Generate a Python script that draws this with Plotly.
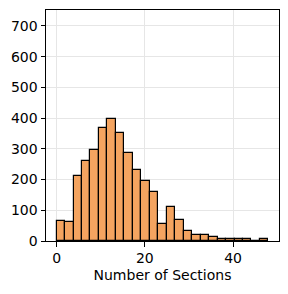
import numpy as np
import plotly.graph_objects as go

# Histogram counts (25 bins spanning 0..48)
bin_start = 0
bin_end = 48
n_bins = 25
counts = [65, 61, 213, 262, 297, 367, 396, 350, 288, 232, 194, 158, 55,
          110, 68, 32, 18, 18, 12, 8, 5, 5, 5, 0, 5]
x_ticks = [0, 20, 40]
y_ticks = [0, 100, 200, 300, 400, 500, 600, 700]
x_label = "Number of Sections"

edges = np.linspace(bin_start, bin_end, n_bins + 1)
centers = (edges[:-1] + edges[1:]) / 2
widths = np.diff(edges)

fig = go.Figure(go.Bar(
    x=centers, y=counts, width=widths,
    marker=dict(color="#F4A460", line=dict(color="black", width=1.2)),
    hoverinfo="x+y",
))

font = dict(family="DejaVu Sans", size=14, color="black")
axis_common = dict(
    showline=True, linecolor="black", linewidth=1, mirror=True,
    ticks="outside", ticklen=4.5, tickwidth=1, tickcolor="black",
    showgrid=True, gridcolor="#e6e6e6", gridwidth=0.8,
    zeroline=False, tickfont=font, automargin=False,
)
fig.update_layout(
    width=288, height=294,
    margin=dict(l=38, r=17, t=2, b=61),
    paper_bgcolor="white", plot_bgcolor="white",
    showlegend=False, bargap=0,
    font=font,
    xaxis=dict(axis_common, range=[-2.4, 50.4], tickvals=x_ticks,
               title=dict(text=x_label, font=font, standoff=4)),
    yaxis=dict(axis_common, range=[0, 752], tickvals=y_ticks),
)
fig.write_html("out.html")
